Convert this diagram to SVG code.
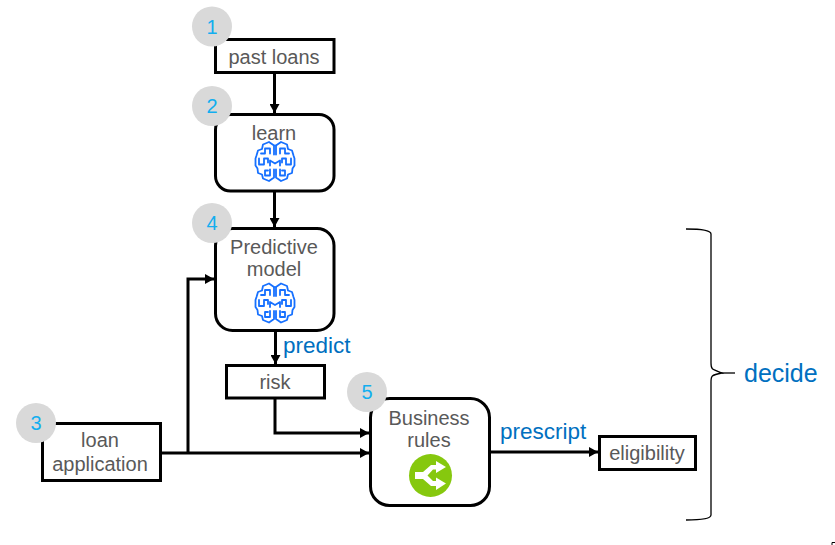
<svg xmlns="http://www.w3.org/2000/svg" width="835" height="545" viewBox="0 0 835 545">
<style>
.box{fill:#fff;stroke:#000;stroke-width:3}
.badge{fill:#d9d9d9}
.num{font:20px "Liberation Sans",Arial,sans-serif;fill:#12aeef;text-anchor:middle}
.lbl{font:20px "Liberation Sans",Arial,sans-serif;fill:#595959;text-anchor:middle}
.act{font:22.500px "Liberation Sans",Arial,sans-serif;fill:#0070c0}
.con{fill:none;stroke:#000;stroke-width:3}
.brain{fill:none;stroke:#1670ff;stroke-width:1.800;stroke-linejoin:round;stroke-linecap:round}
</style>
<defs>
<marker id="ah" markerUnits="userSpaceOnUse" markerWidth="10" markerHeight="10" refX="9" refY="5" orient="auto"><path d="M0 0L9 5L0 10Z" fill="#000"/></marker>
<g id="brain" class="brain">
<path d="M-1 -16L-6 -19.500L-12 -17L-13 -12.500L-17 -11L-18.500 -6L-19.500 -3V4L-17.500 7L-17 11.500L-13 13L-12 17L-6 19.500L-1 16V8"/>
<path d="M1 -16L6 -19.500L12 -17L13 -12.500L17 -11L18.500 -6L19.500 -3V4L17.500 7L17 11.500L13 13L12 17L6 19.500L1 16V8"/>
<path d="M-1 -16V-7M1 -16V-7"/>
<path d="M-5 -8V-13H-10V-8H-14M5 -8V-13H10V-8H14"/>
<path d="M-16 -3V3H-11V-3H-7V1M16 -3V3H11V-3H7V1"/>
<path d="M-5 4V-1L0 2L5 -1V4"/>
<path d="M-5 8V14H-10V9H-7M5 8V14H10V9H7"/>
</g>
</defs>
<g id="connectors">
<path class="con" d="M274.500 73V113" marker-end="url(#ah)"/>
<path class="con" d="M274.500 191V227" marker-end="url(#ah)"/>
<path class="con" d="M275.500 331V364" marker-end="url(#ah)"/>
<path class="con" d="M188 453V279H214" marker-end="url(#ah)"/>
<path class="con" d="M161 453H369" marker-end="url(#ah)"/>
<path class="con" d="M275 399V433H369" marker-end="url(#ah)"/>
<path class="con" d="M490 452H598" marker-end="url(#ah)"/>
</g>
<g id="n-past-loans">
<rect class="box" x="215.500" y="39.500" width="118.500" height="33"/>
<text class="lbl" x="274" y="64">past loans</text>
</g>
<g id="n-learn">
<rect class="box" x="215.500" y="114.500" width="118.500" height="76.500" rx="15"/>
<text class="lbl" x="274" y="140">learn</text>
<use href="#brain" x="275" y="161.500"/>
</g>
<g id="n-predictive">
<rect class="box" x="215.500" y="228.500" width="118.500" height="102" rx="17"/>
<text class="lbl" x="274" y="254">Predictive</text>
<text class="lbl" x="274" y="276">model</text>
<use href="#brain" x="275" y="303"/>
</g>
<g id="n-risk">
<rect class="box" x="226.500" y="365.500" width="98" height="32.500"/>
<text class="lbl" x="275" y="389">risk</text>
</g>
<g id="n-loan">
<rect class="box" x="42.500" y="423.500" width="118" height="57"/>
<text class="lbl" x="100" y="447">loan</text>
<text class="lbl" x="100" y="471">application</text>
</g>
<g id="n-rules">
<rect class="box" x="370.500" y="398.500" width="119" height="107" rx="19"/>
<text class="lbl" x="429" y="425">Business</text>
<text class="lbl" x="429" y="447">rules</text>
<circle cx="430.500" cy="475.500" r="21.500" fill="#86c80e"/>
<path d="M415 472H423L431 465H436V461L446 467L436 473V469.500H433L427.500 475.500L433 481H436V477.500L446 483.500L436 490V486H431L423 479H415Z" fill="#fff"/>
</g>
<g id="n-eligibility">
<rect class="box" x="599.500" y="436.500" width="96" height="33"/>
<text class="lbl" x="647" y="460">eligibility</text>
</g>
<g id="b-1"><circle class="badge" cx="212" cy="26.500" r="20"/><text class="num" x="212" y="33.500">1</text></g>
<g id="b-2"><circle class="badge" cx="212" cy="106" r="20"/><text class="num" x="212" y="113">2</text></g>
<g id="b-4"><circle class="badge" cx="212" cy="223" r="20"/><text class="num" x="212" y="230">4</text></g>
<g id="b-3"><circle class="badge" cx="36" cy="423" r="20"/><text class="num" x="36" y="430">3</text></g>
<g id="b-5"><circle class="badge" cx="367" cy="392" r="20"/><text class="num" x="367" y="399">5</text></g>
<g id="labels">
<text class="act" x="283" y="352.500">predict</text>
<text class="act" x="500" y="439">prescript</text>
<text class="act" x="744" y="381.500" style="font-size:25px">decide</text>
</g>
<g id="brace">
<path d="M686 229C700 229 711 230 711 234V363C711 369 711 369 722 373C711 375 711 376 711 382V515C711 519 700 520 686 520" fill="none" stroke="#000" stroke-width="1.300"/>
<path d="M722 373H735" fill="none" stroke="#000" stroke-width="1.300"/>
</g>
<path d="M832 545V542.500H835" fill="none" stroke="#000"/>
</svg>
